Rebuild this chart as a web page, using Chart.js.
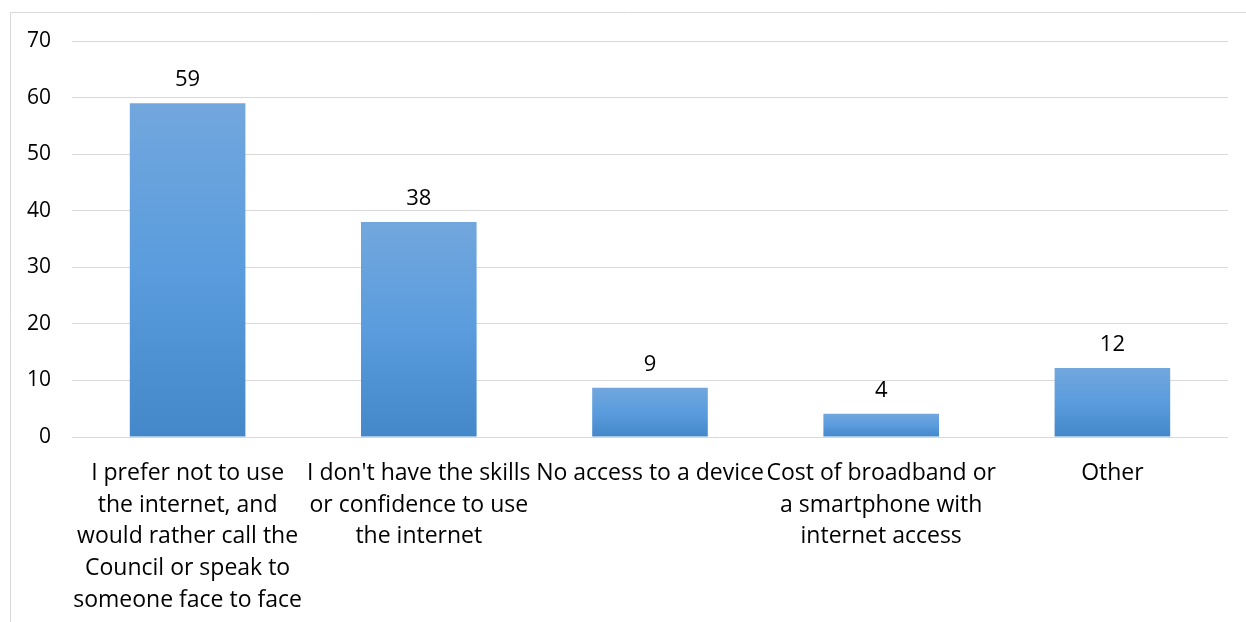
<!DOCTYPE html>
<html>
<head>
<meta charset="utf-8">
<script src="https://cdn.jsdelivr.net/npm/chart.js@4/dist/chart.umd.min.js"></script>
<style>
  html, body { margin: 0; padding: 0; background: #fff; }
  #wrap { position: relative; width: 1246px; height: 622px; }
</style>
</head>
<body>
<div id="wrap"><canvas id="myChart" width="1246" height="622"></canvas></div>
<script>
"use strict";

const categories = [
    ["I prefer not to use", "the internet, and", "would rather call the", "Council or speak to", "someone face to face"],
    ["I don't have the skills", "or confidence to use", "the internet"],
    ["No access to a device"],
    ["Cost of broadband or", "a smartphone with", "internet access"],
    ["Other"]
];
const responses = [59, 38, 8.7, 4.1, 12.2];
const yTicks = [0, 10, 20, 30, 40, 50, 60, 70];

const fontFamily = "'Open Sans', sans-serif";

// light grey frame round the chart, like the exported picture
const framePlugin = {
    id: "frame",
    beforeDraw(chart) {
        const ctx = chart.ctx;
        ctx.save();
        ctx.strokeStyle = "#D9D9D9";
        ctx.lineWidth = 1;
        ctx.beginPath();
        ctx.moveTo(10.5, 640);
        ctx.lineTo(10.5, 12.5);
        ctx.lineTo(1260, 12.5);
        ctx.stroke();
        ctx.restore();
    }
};

// value labels above every bar
const valueLabels = {
    id: "valueLabels",
    afterDatasetsDraw(chart) {
        const ctx = chart.ctx;
        const meta = chart.getDatasetMeta(0);
        ctx.save();
        ctx.font = "22px " + fontFamily;
        ctx.fillStyle = "#000";
        ctx.textAlign = "center";
        ctx.textBaseline = "alphabetic";
        meta.data.forEach(function (bar, i) {
            ctx.fillText(String(Math.round(responses[i])), bar.x, bar.y - 17);
        });
        ctx.restore();
    }
};

const ctx = document.getElementById("myChart");
new Chart(ctx, {
    type: "bar",
    data: {
        labels: categories,
        datasets: [{
            data: responses,
            backgroundColor: function (context) {
                const chart = context.chart;
                const area = chart.chartArea;
                if (!area) return "#5B9BD5";
                const y = chart.scales.y;
                const top = y.getPixelForValue(context.raw);
                const base = y.getPixelForValue(0);
                const g = chart.ctx.createLinearGradient(0, top, 0, base);
                g.addColorStop(0, "#72A7DD");
                g.addColorStop(0.5, "#5A9CDD");
                g.addColorStop(1, "#4488CA");
                return g;
            },
            borderWidth: 0,
            barPercentage: 0.5,
            categoryPercentage: 1.0
        }]
    },
    options: {
        responsive: false,
        animation: false,
        layout: {
            padding: { left: 0, top: 41, right: 18, bottom: 0 }
        },
        plugins: {
            legend: { display: false },
            tooltip: { enabled: false }
        },
        scales: {
            x: {
                grid: { display: false, drawTicks: false },
                border: { display: false },
                ticks: {
                    color: "#000",
                    font: { family: fontFamily, size: 23, lineHeight: 1.39 },
                    padding: 20,
                    maxRotation: 0,
                    autoSkip: false
                },
                afterFit: function (scale) { scale.height = 185; }
            },
            y: {
                min: 0,
                max: 70,
                afterBuildTicks: function (scale) {
                    scale.ticks = yTicks.map(function (v) { return { value: v }; });
                },
                grid: { color: "#D9D9D9", lineWidth: 1, drawTicks: false },
                border: { display: false },
                ticks: {
                    color: "#000",
                    font: { family: fontFamily, size: 21 },
                    padding: 21
                },
                afterFit: function (scale) { scale.width = 72; }
            }
        }
    },
    plugins: [framePlugin, valueLabels]
});
</script>
</body>
</html>
